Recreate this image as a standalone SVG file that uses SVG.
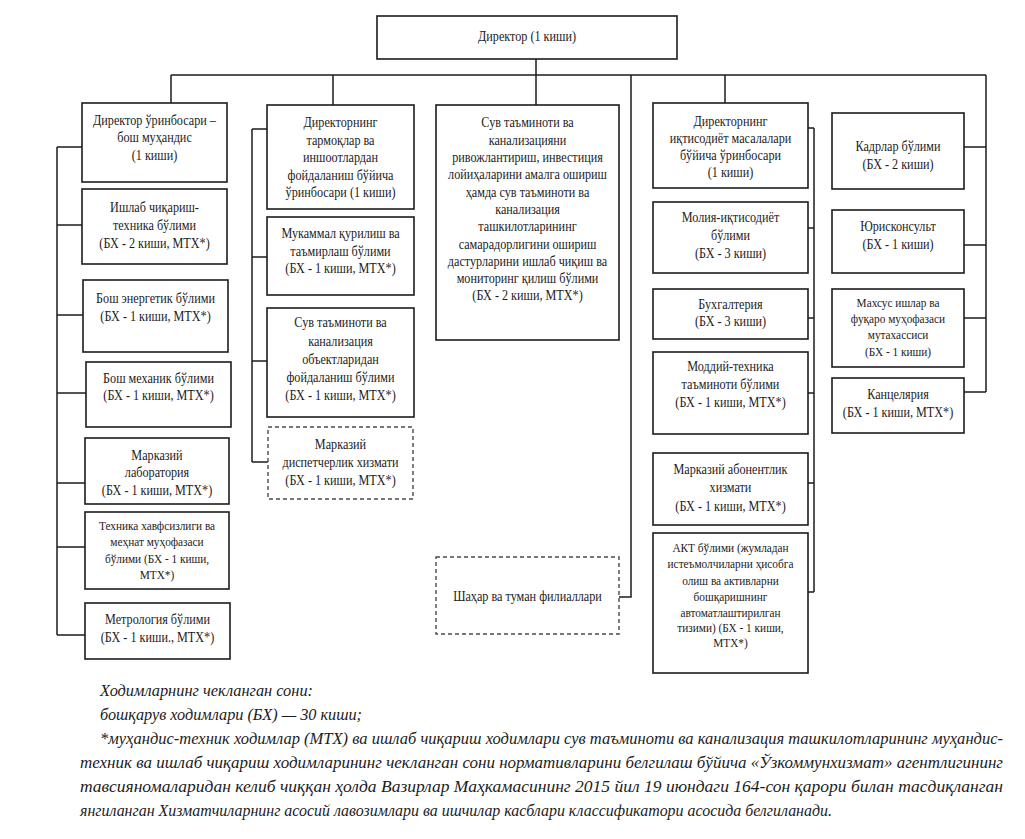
<svg xmlns="http://www.w3.org/2000/svg" width="1025" height="839" viewBox="0 0 1025 839">
<style>
.bg{fill:#fff}
.box{fill:#fff;stroke:#1c1c1c;stroke-width:1.6}
.dash{fill:#fff;stroke:#4a4a4a;stroke-width:1.4;stroke-dasharray:4 3}
.conn{stroke:#1c1c1c;stroke-width:1.5;fill:none}
.t{font-family:"Liberation Serif","Times New Roman",serif;font-size:14px;fill:#1c1c1c;text-anchor:middle}
.s{font-size:13px}
.note{font-family:"Liberation Serif","Times New Roman",serif;font-style:italic;font-size:16.5px;fill:#1c1c1c}
</style>
<rect class="bg" x="0" y="0" width="1025" height="839"/>

<g id="connectors">
<path class="conn" d="M536 59V105M171 75H986M171 75V103M333 75V105M725 75V103M631 75V597H619M986 75V392"/>
<path class="conn" d="M57 147V635M57 147H82M57 225H82M57 315H83M57 393H86M57 483H85M57 547H85M57 635H85"/>
<path class="conn" d="M252 129V462M252 129H267M252 257H267M252 361H267M252 462H268"/>
<path class="conn" d="M814 128V592M808 128H814M808 228H814M808 318H814M808 393H814M808 483H814M808 592H814"/>
<path class="conn" d="M964 147H986M964 245H986M964 318H986M964 392H986"/>
</g>

<g id="director">
<rect class="box" x="377" y="16" width="300" height="43"/>
<text class="t" transform="matrix(0.87 0 0 1 527 0)" x="0" y="41">Директор (1 киши)</text>
</g>

<g id="dep-chief-engineer">
<rect class="box" x="82" y="103" width="145" height="79"/>
<text class="t" transform="matrix(0.87 0 0 1 154.5 0)"><tspan x="0" y="125">Директор ўринбосари –</tspan><tspan x="0" y="142.5">бош муҳандис</tspan><tspan x="0" y="160">(1 киши)</tspan></text>
</g>
<g id="production-tech">
<rect class="box" x="82" y="189" width="145" height="75"/>
<text class="t" transform="matrix(0.87 0 0 1 154.5 0)"><tspan x="0" y="212">Ишлаб чиқариш-</tspan><tspan x="0" y="230">техника бўлими</tspan><tspan x="0" y="248">(БХ - 2 киши, МТХ*)</tspan></text>
</g>
<g id="chief-energy">
<rect class="box" x="83" y="280" width="145" height="72"/>
<text class="t" transform="matrix(0.87 0 0 1 155.5 0)"><tspan x="0" y="303">Бош энергетик бўлими</tspan><tspan x="0" y="321">(БХ - 1 киши, МТХ*)</tspan></text>
</g>
<g id="chief-mechanic">
<rect class="box" x="86" y="362" width="145" height="65"/>
<text class="t" transform="matrix(0.87 0 0 1 158.5 0)"><tspan x="0" y="383">Бош механик бўлими</tspan><tspan x="0" y="400">(БХ - 1 киши, МТХ*)</tspan></text>
</g>
<g id="central-lab">
<rect class="box" x="85" y="438" width="144" height="66"/>
<text class="t" transform="matrix(0.87 0 0 1 157 0)"><tspan x="0" y="460">Марказий</tspan><tspan x="0" y="477">лаборатория</tspan><tspan x="0" y="495">(БХ - 1 киши, МТХ*)</tspan></text>
</g>
<g id="safety">
<rect class="box" x="85" y="512" width="144" height="77"/>
<text class="t s" transform="matrix(0.87 0 0 1 157 0)"><tspan x="0" y="530">Техника хавфсизлиги ва</tspan><tspan x="0" y="546.5">меҳнат муҳофазаси</tspan><tspan x="0" y="563">бўлими (БХ - 1 киши,</tspan><tspan x="0" y="579.5">МТХ*)</tspan></text>
</g>
<g id="metrology">
<rect class="box" x="85" y="603" width="145" height="56"/>
<text class="t" transform="matrix(0.87 0 0 1 157.5 0)"><tspan x="0" y="624">Метрология бўлими</tspan><tspan x="0" y="642">(БХ - 1 киши., МТХ*)</tspan></text>
</g>

<g id="dep-networks">
<rect class="box" x="267" y="105" width="147" height="104"/>
<text class="t" transform="matrix(0.87 0 0 1 340.5 0)"><tspan x="0" y="127.5">Директорнинг</tspan><tspan x="0" y="145">тармоқлар ва</tspan><tspan x="0" y="162.5">иншоотлардан</tspan><tspan x="0" y="180">фойдаланиш бўйича</tspan><tspan x="0" y="197.5">ўринбосари (1 киши)</tspan></text>
</g>
<g id="capital-repair">
<rect class="box" x="267" y="217" width="147" height="78"/>
<text class="t" transform="matrix(0.87 0 0 1 340.5 0)"><tspan x="0" y="238.5">Мукаммал қурилиш ва</tspan><tspan x="0" y="256">таъмирлаш бўлими</tspan><tspan x="0" y="273.5">(БХ - 1 киши, МТХ*)</tspan></text>
</g>
<g id="water-operation">
<rect class="box" x="267" y="308" width="147" height="109"/>
<text class="t" transform="matrix(0.87 0 0 1 340.5 0)"><tspan x="0" y="327.5">Сув таъминоти ва</tspan><tspan x="0" y="346">канализация</tspan><tspan x="0" y="364">объектларидан</tspan><tspan x="0" y="382">фойдаланиш бўлими</tspan><tspan x="0" y="400">(БХ - 1 киши, МТХ*)</tspan></text>
</g>
<g id="dispatch">
<rect class="dash" x="268" y="427" width="145" height="72"/>
<text class="t" transform="matrix(0.87 0 0 1 340.5 0)"><tspan x="0" y="449.5">Марказий</tspan><tspan x="0" y="467.5">диспетчерлик хизмати</tspan><tspan x="0" y="485.5">(БХ - 1 киши, МТХ*)</tspan></text>
</g>

<g id="development">
<rect class="box" x="436" y="105" width="183" height="235"/>
<text class="t" transform="matrix(0.87 0 0 1 527.5 0)"><tspan x="0" y="127.5">Сув таъминоти ва</tspan><tspan x="0" y="144.8">канализацияни</tspan><tspan x="0" y="162.1">ривожлантириш, инвестиция</tspan><tspan x="0" y="179.4">лойиҳаларини амалга ошириш</tspan><tspan x="0" y="196.7">ҳамда сув таъминоти ва</tspan><tspan x="0" y="214">канализация</tspan><tspan x="0" y="231.3">ташкилотларининг</tspan><tspan x="0" y="248.6">самарадорлигини ошириш</tspan><tspan x="0" y="265.9">дастурларини ишлаб чиқиш ва</tspan><tspan x="0" y="283.2">мониторинг қилиш бўлими</tspan><tspan x="0" y="300.5">(БХ - 2 киши, МТХ*)</tspan></text>
</g>
<g id="branches">
<rect class="dash" x="436" y="557" width="183" height="77"/>
<text class="t" transform="matrix(0.87 0 0 1 527.5 0)" x="0" y="601">Шаҳар ва туман филиаллари</text>
</g>

<g id="dep-economics">
<rect class="box" x="653" y="103" width="155" height="85"/>
<text class="t" transform="matrix(0.87 0 0 1 730.5 0)"><tspan x="0" y="126.5">Директорнинг</tspan><tspan x="0" y="143">иқтисодиёт масалалари</tspan><tspan x="0" y="160">бўйича ўринбосари</tspan><tspan x="0" y="177.5">(1 киши)</tspan></text>
</g>
<g id="finance">
<rect class="box" x="653" y="202" width="155" height="71"/>
<text class="t" transform="matrix(0.87 0 0 1 730.5 0)"><tspan x="0" y="222.5">Молия-иқтисодиёт</tspan><tspan x="0" y="240.5">бўлими</tspan><tspan x="0" y="258.5">(БХ - 3 киши)</tspan></text>
</g>
<g id="accounting">
<rect class="box" x="653" y="289" width="155" height="50"/>
<text class="t" transform="matrix(0.87 0 0 1 730.5 0)"><tspan x="0" y="309.5">Бухгалтерия</tspan><tspan x="0" y="326.5">(БХ - 3 киши)</tspan></text>
</g>
<g id="supply">
<rect class="box" x="653" y="352" width="155" height="82"/>
<text class="t" transform="matrix(0.87 0 0 1 730.5 0)"><tspan x="0" y="371.5">Моддий-техника</tspan><tspan x="0" y="389.5">таъминоти бўлими</tspan><tspan x="0" y="407.5">(БХ - 1 киши, МТХ*)</tspan></text>
</g>
<g id="subscriber">
<rect class="box" x="653" y="453" width="155" height="72"/>
<text class="t" transform="matrix(0.87 0 0 1 730.5 0)"><tspan x="0" y="474.5">Марказий абонентлик</tspan><tspan x="0" y="492.5">хизмати</tspan><tspan x="0" y="511">(БХ - 1 киши, МТХ*)</tspan></text>
</g>
<g id="ict">
<rect class="box" x="653" y="533" width="155" height="140"/>
<text class="t s" transform="matrix(0.87 0 0 1 730.5 0)"><tspan x="0" y="552.5">АКТ бўлими (жумладан</tspan><tspan x="0" y="568.5">истеъмолчиларни ҳисобга</tspan><tspan x="0" y="585">олиш ва активларни</tspan><tspan x="0" y="601">бошқаришнинг</tspan><tspan x="0" y="617">автоматлаштирилган</tspan><tspan x="0" y="632.5">тизими) (БХ - 1 киши,</tspan><tspan x="0" y="647.5">МТХ*)</tspan></text>
</g>

<g id="hr">
<rect class="box" x="832" y="113" width="132" height="76"/>
<text class="t" transform="matrix(0.87 0 0 1 898 0)"><tspan x="0" y="151.5">Кадрлар бўлими</tspan><tspan x="0" y="169.5">(БХ - 2 киши)</tspan></text>
</g>
<g id="legal">
<rect class="box" x="832" y="210" width="132" height="63"/>
<text class="t" transform="matrix(0.87 0 0 1 898 0)"><tspan x="0" y="231.5">Юрисконсульт</tspan><tspan x="0" y="249.5">(БХ - 1 киши)</tspan></text>
</g>
<g id="civil-defense">
<rect class="box" x="832" y="289" width="132" height="78"/>
<text class="t s" transform="matrix(0.87 0 0 1 898 0)"><tspan x="0" y="307.5">Махсус ишлар ва</tspan><tspan x="0" y="323.5">фуқаро муҳофазаси</tspan><tspan x="0" y="339.5">мутахассиси</tspan><tspan x="0" y="356">(БХ - 1 киши)</tspan></text>
</g>
<g id="office">
<rect class="box" x="832" y="378" width="132" height="55"/>
<text class="t" transform="matrix(0.87 0 0 1 898 0)"><tspan x="0" y="399.5">Канцелярия</tspan><tspan x="0" y="417.5">(БХ - 1 киши, МТХ*)</tspan></text>
</g>

<g id="notes">
<text class="note" x="100" y="696" textLength="213" lengthAdjust="spacingAndGlyphs">Ходимларнинг чекланган сони:</text>
<text class="note" x="100" y="720" textLength="262" lengthAdjust="spacingAndGlyphs">бошқарув ходимлари (БХ) — 30 киши;</text>
<text class="note" x="100" y="744" textLength="903" lengthAdjust="spacingAndGlyphs">*муҳандис-техник ходимлар (МТХ) ва ишлаб чиқариш ходимлари сув таъминоти ва канализация ташкилотларининг муҳандис-</text>
<text class="note" x="80" y="768" textLength="923" lengthAdjust="spacingAndGlyphs">техник ва ишлаб чиқариш ходимларининг чекланган сони нормативларини белгилаш бўйича «Ўзкоммунхизмат» агентлигининг</text>
<text class="note" x="80" y="792" textLength="923" lengthAdjust="spacingAndGlyphs">тавсияномаларидан келиб чиққан ҳолда Вазирлар Маҳкамасининг 2015 йил 19 июндаги 164-сон қарори билан тасдиқланган</text>
<text class="note" x="80" y="816" textLength="752" lengthAdjust="spacingAndGlyphs">янгиланган Хизматчиларнинг асосий лавозимлари ва ишчилар касблари классификатори асосида белгиланади.</text>
</g>
</svg>
